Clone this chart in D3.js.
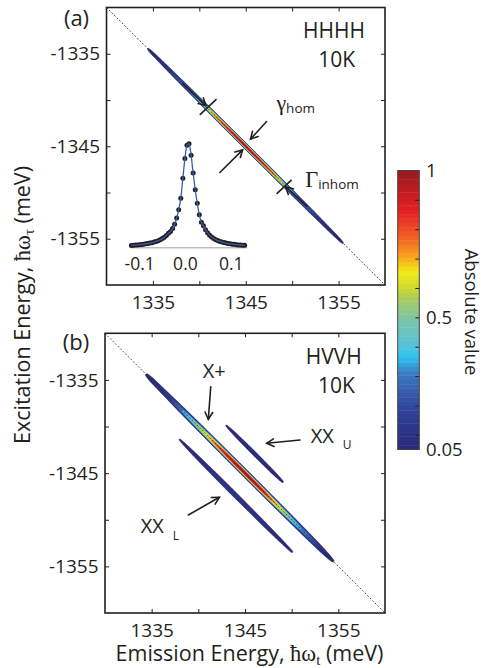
<!DOCTYPE html>
<html>
<head>
<meta charset="utf-8">
<script src="https://cdnjs.cloudflare.com/ajax/libs/d3/7.8.5/d3.min.js"></script>
<style>
  html, body { margin: 0; padding: 0; background: #fff; }
  svg { display: block; font-family: "Open Sans", "Noto Sans", sans-serif; }
</style>
</head>
<body>
<svg id="chart" width="483" height="668"></svg>
<script>
// ---------- axis ticks ----------
const emissionTicks = [1335, 1340, 1345, 1350, 1355];
const emissionLabels = [1335, 1345, 1355];
const excitationTicks = [-1335, -1340, -1345, -1350, -1355];
const excitationLabels = [-1335, -1345, -1355];

// ---------- (a) HHHH, 10K : single exciton ridge on the diagonal ----------
const hhhhEnergy = [1334, 1335, 1336, 1337, 1338, 1339, 1340, 1341, 1342, 1343, 1344, 1345,
                    1346, 1347, 1348, 1349, 1350, 1351, 1352, 1353, 1354, 1355, 1356];
const hhhhAmp    = [0.02, 0.09, 0.13, 0.20, 0.27, 0.33, 0.45, 0.66, 0.82, 0.90, 0.97, 1.00,
                    0.96, 0.90, 0.82, 0.64, 0.42, 0.30, 0.26, 0.17, 0.12, 0.08, 0.02];
const hhhhOffset = 0;      // meV from the diagonal
const hhhhWidth  = 0.27;   // meV, cross-diagonal
const hhhhShape  = 3;      // exponent of the cross-diagonal profile

// ---------- (b) HVVH, 10K : X+ on the diagonal, biexciton ridges off it ----------
const xPlusEnergy = [1334, 1335, 1336, 1337, 1338, 1339, 1340, 1341, 1342, 1343, 1344, 1345,
                     1346, 1347, 1348, 1349, 1350, 1351, 1352, 1353, 1354, 1355];
const xPlusAmp    = [0.02, 0.10, 0.14, 0.20, 0.32, 0.45, 0.60, 0.70, 0.83, 0.92, 0.98, 1.00,
                     0.98, 0.92, 0.78, 0.65, 0.50, 0.36, 0.28, 0.16, 0.08, 0.02];
const xPlusOffset = 0;
const xPlusWidth  = 0.38;
const xPlusShape  = 3;

const xxUpperEnergy = [1342.5, 1343, 1344, 1345, 1346, 1347, 1348, 1349, 1349.6];
const xxUpperAmp    = [0.00, 0.055, 0.085, 0.10, 0.11, 0.10, 0.09, 0.06, 0.00];
const xxUpperOffset = 3.1;
const xxUpperWidth  = 0.35;
const xxUpperShape  = 2;

const xxLowerEnergy = [1337.5, 1338, 1339, 1340, 1341, 1342, 1343, 1344, 1345, 1346, 1347, 1348, 1349, 1350, 1350.6];
const xxLowerAmp    = [0.00, 0.055, 0.08, 0.10, 0.12, 0.14, 0.15, 0.15, 0.14, 0.13, 0.12, 0.10, 0.08, 0.06, 0.00];
const xxLowerOffset = -3.4;
const xxLowerWidth  = 0.35;
const xxLowerShape  = 2;

// ---------- inset of (a): cross-diagonal (homogeneous) lineshape ----------
const insetX = [-0.117, -0.1125, -0.108, -0.1035, -0.099, -0.0945, -0.090, -0.0855, -0.081, -0.0765,
                -0.072, -0.0675, -0.063, -0.0585, -0.054, -0.0495, -0.045, -0.0405, -0.036, -0.0315,
                -0.027, -0.0225, -0.018, -0.0135, -0.009, -0.0045, 0.0, 0.0045, 0.009, 0.0135,
                0.018, 0.0225, 0.027, 0.0315, 0.036, 0.0405, 0.045, 0.0495, 0.054, 0.0585,
                0.063, 0.0675, 0.072, 0.0765, 0.081, 0.0855, 0.090, 0.0945, 0.099, 0.1035,
                0.108, 0.1125, 0.117, 0.1215, 0.126, 0.1305];
const insetY = [0.018, 0.020, 0.021, 0.023, 0.025, 0.027, 0.030, 0.033, 0.036, 0.040,
                0.044, 0.050, 0.056, 0.063, 0.072, 0.083, 0.097, 0.114, 0.135, 0.150,
                0.180, 0.220, 0.280, 0.360, 0.470, 0.660, 0.850, 0.975, 0.990, 0.880,
                0.710, 0.550, 0.420, 0.310, 0.240, 0.205, 0.167, 0.138, 0.116, 0.098,
                0.084, 0.073, 0.064, 0.056, 0.050, 0.045, 0.040, 0.036, 0.033, 0.030,
                0.028, 0.025, 0.023, 0.022, 0.020, 0.019];
const insetTicks = [-0.1, 0.0, 0.1];

// ---------- colour bar ----------
const colorDomain = [0.05, 1];
const colorTicks = [0.1, 0.2, 0.3, 0.4, 0.5, 0.6, 0.7, 0.8, 0.9];
const colorLabels = [1, 0.5, 0.05];
const contourLevels = d3.range(1, 20).map(k => +(k * 0.05).toFixed(2));

// printed "jet" palette
const jetStops  = [0, 0.10, 0.18, 0.27, 0.33, 0.38, 0.47, 0.54, 0.58, 0.64, 0.69, 0.76, 0.86, 1];
const jetColors = ["#2b2b7b", "#2e3a90", "#3653a4", "#3b7cc0", "#2fc3f0", "#5cc2d3", "#7dc5a6",
                   "#a8cd5c", "#cbd92e", "#f6eb1a", "#f8a91c", "#f26524", "#e51f25", "#9b1b1f"];
const jet = d3.scaleLinear().domain(jetStops).range(jetColors).interpolate(d3.interpolateRgb).clamp(true);
const levelColor = v => jet((v - colorDomain[0]) / (colorDomain[1] - colorDomain[0]));

const ink = "#231f20";
const svg = d3.select("#chart");

// ---------- helpers ----------
function arrow(g, x, y, from, to, headLen = 8) {
  const x0 = x(from[0]), y0 = y(from[1]), x1 = x(to[0]), y1 = y(to[1]);
  const a = Math.atan2(y1 - y0, x1 - x0), s = 0.5;
  g.append("line").attr("x1", x0).attr("y1", y0).attr("x2", x1).attr("y2", y1)
    .attr("stroke", ink).attr("stroke-width", 1.6).attr("stroke-linecap", "round");
  g.append("polyline")
    .attr("points", [
      [x1 - headLen * Math.cos(a - s), y1 - headLen * Math.sin(a - s)],
      [x1, y1],
      [x1 - headLen * Math.cos(a + s), y1 - headLen * Math.sin(a + s)]
    ].map(p => p.join(",")).join(" "))
    .attr("fill", "none").attr("stroke", ink).attr("stroke-width", 1.6)
    .attr("stroke-linecap", "round").attr("stroke-linejoin", "miter");
}

function drawPanel(box, bands, id) {
  const x = d3.scaleLinear().domain([1330, 1360]).range([box.x0, box.x1]);
  const y = d3.scaleLinear().domain([-1330, -1360]).range([box.y0, box.y1]);
  const g = svg.append("g");

  g.append("clipPath").attr("id", "clip-" + id)
    .append("rect").attr("x", box.x0).attr("y", box.y0)
    .attr("width", box.x1 - box.x0).attr("height", box.y1 - box.y0);

  // sample the 2D spectrum on a grid (emission along columns, excitation along rows)
  const n = 600, step = 30 / n;
  const values = new Float64Array(n * n);
  bands.forEach(b => {
    const amp = d3.scaleLinear().domain(b.energy).range(b.amp).clamp(true);
    const lim = 2.6 * b.width;
    for (let j = 0; j < n; j++) {
      const ex = -1330 - (j + 0.5) * step;
      for (let i = 0; i < n; i++) {
        const em = 1330 + (i + 0.5) * step;
        const d = em + ex - b.offset;
        if (Math.abs(d) > lim) continue;
        const t = (em - ex + b.offset) / 2;
        values[i + j * n] += amp(t) * Math.exp(-Math.pow(Math.abs(d) / b.width, b.shape));
      }
    }
  });

  const contours = d3.contours().size([n, n]).thresholds(contourLevels)(values);
  const toPlot = d3.geoTransform({
    point(px, py) { this.stream.point(x(1330 + px * step), y(-1330 - py * step)); }
  });
  const path = d3.geoPath(toPlot);

  const cg = g.append("g").attr("clip-path", `url(#clip-${id})`);
  cg.selectAll("path.level").data(contours).join("path")
    .attr("class", "level")
    .attr("d", path)
    .attr("fill", d => levelColor(d.value))
    .attr("stroke", (d, i) => i === 0 ? "#1c1c52" : "none")
    .attr("stroke-width", 0.5);

  // diagonal
  cg.append("line")
    .attr("x1", x(1330)).attr("y1", y(-1330)).attr("x2", x(1360)).attr("y2", y(-1360))
    .attr("stroke", ink).attr("stroke-width", 0.8).attr("stroke-dasharray", "1.8,1.8");

  // axes: labelled bottom/left, mirrored ticks on top/right
  const fmtX = d => emissionLabels.includes(d) ? String(d) : "";
  const fmtY = d => excitationLabels.includes(d) ? String(d) : "";
  const style = sel => {
    sel.select(".domain").remove();
    sel.attr("font-size", null).attr("font-family", null);
    sel.selectAll(".tick line").attr("stroke", ink).attr("stroke-width", 1);
    sel.selectAll(".tick text").attr("fill", ink).style("font-size", "19px");
  };
  g.append("g").attr("transform", `translate(0,${box.y1})`)
    .call(d3.axisBottom(x).tickValues(emissionTicks).tickSize(-4).tickPadding(11).tickFormat(fmtX)).call(style);
  g.append("g").attr("transform", `translate(0,${box.y0})`)
    .call(d3.axisTop(x).tickValues(emissionTicks).tickSize(-4).tickFormat("")).call(style);
  g.append("g").attr("transform", `translate(${box.x0},0)`)
    .call(d3.axisLeft(y).tickValues(excitationTicks).tickSize(-4).tickPadding(6.5).tickFormat(fmtY)).call(style);
  g.append("g").attr("transform", `translate(${box.x1},0)`)
    .call(d3.axisRight(y).tickValues(excitationTicks).tickSize(-4).tickFormat("")).call(style);

  g.append("rect").attr("x", box.x0).attr("y", box.y0)
    .attr("width", box.x1 - box.x0).attr("height", box.y1 - box.y0)
    .attr("fill", "none").attr("stroke", ink).attr("stroke-width", 1.6);

  return { g, x, y };
}

// ---------- panel (a) ----------
const A = drawPanel({ x0: 106.5, x1: 385, y0: 7.5, y1: 285 },
  [{ energy: hhhhEnergy, amp: hhhhAmp, offset: hhhhOffset, width: hhhhWidth, shape: hhhhShape }], "a");

// Gamma_inhom markers: bars across the ridge plus arrows along it
[[[1340.05, -1341.61], [1341.85, -1339.91]], [[1348.32, -1350.14], [1349.94, -1348.63]]].forEach(s => {
  A.g.append("line").attr("x1", A.x(s[0][0])).attr("y1", A.y(s[0][1]))
    .attr("x2", A.x(s[1][0])).attr("y2", A.y(s[1][1]))
    .attr("stroke", ink).attr("stroke-width", 1.6);
});
arrow(A.g, A.x, A.y, [1338.2, -1338.2], [1340.7, -1340.6]);
arrow(A.g, A.x, A.y, [1351.6, -1351.5], [1349.3, -1349.4]);
// gamma_hom arrows across the ridge
arrow(A.g, A.x, A.y, [1347.24, -1342.33], [1345.52, -1344.23]);
arrow(A.g, A.x, A.y, [1342.21, -1347.84], [1344.66, -1345.39]);

A.g.append("text").attr("x", A.x(1354.5)).attr("y", A.y(-1333.3)).attr("text-anchor", "middle")
  .attr("fill", ink).style("font-size", "21px").text("HHHH");
A.g.append("text").attr("x", A.x(1354.8)).attr("y", A.y(-1336.4)).attr("text-anchor", "middle")
  .attr("fill", ink).style("font-size", "21px").text("10K");

const gam = A.g.append("text").attr("x", A.x(1348.3)).attr("y", 110).attr("fill", ink);
gam.append("tspan").style("font-family", "'Liberation Serif', serif").style("font-size", "22px").text("γ");
gam.append("tspan").attr("dy", 3).style("font-size", "13.5px").text("hom");

const Gam = A.g.append("text").attr("x", A.x(1351.4)).attr("y", 186.7).attr("fill", ink);
Gam.append("tspan").style("font-family", "'Liberation Serif', serif").style("font-size", "22.5px").text("Γ");
Gam.append("tspan").attr("dy", 2.6).style("font-size", "13.5px").text("inhom");

svg.append("text").attr("x", 76.5).attr("y", 25.5).attr("text-anchor", "middle")
  .attr("fill", ink).style("font-size", "22px").text("(a)");

// inset lineshape
const ix = d3.scaleLinear().domain([-0.12, 0.135]).range([130, 246.7]);
const iy = d3.scaleLinear().domain([0, 1]).range([247.3, 142.7]);
const inset = A.g.append("g");
inset.append("g").attr("transform", `translate(0,${iy(0)})`)
  .call(d3.axisBottom(ix).tickValues(insetTicks).tickSize(0).tickPadding(10.3).tickFormat(d => d.toFixed(1)))
  .call(sel => {
    sel.attr("font-size", null).attr("font-family", null);
    sel.select(".domain").attr("stroke", "#9a9a9a").attr("stroke-width", 0.9);
    sel.selectAll(".tick text").attr("fill", ink).style("font-size", "17.5px");
  });
const pts = insetX.map((v, i) => [v, insetY[i]]);
inset.selectAll("circle").data(pts).join("circle")
  .attr("cx", d => ix(d[0])).attr("cy", d => iy(d[1])).attr("r", 2.5).attr("fill", ink);
inset.append("path").datum(pts)
  .attr("d", d3.line().x(d => ix(d[0])).y(d => iy(d[1])).curve(d3.curveMonotoneX))
  .attr("fill", "none").attr("stroke", "#3b5ba9").attr("stroke-width", 1.3);

// ---------- panel (b) ----------
const B = drawPanel({ x0: 105, x1: 385, y0: 333.3, y1: 613 }, [
  { energy: xPlusEnergy, amp: xPlusAmp, offset: xPlusOffset, width: xPlusWidth, shape: xPlusShape },
  { energy: xxUpperEnergy, amp: xxUpperAmp, offset: xxUpperOffset, width: xxUpperWidth, shape: xxUpperShape },
  { energy: xxLowerEnergy, amp: xxLowerAmp, offset: xxLowerOffset, width: xxLowerWidth, shape: xxLowerShape }
], "b");

arrow(B.g, B.x, B.y, [1341.33, -1335.73], [1341.07, -1339.22]);
arrow(B.g, B.x, B.y, [1350.89, -1341.44], [1347.33, -1341.80]);
arrow(B.g, B.x, B.y, [1338.93, -1349.49], [1342.25, -1347.59]);

B.g.append("text").attr("x", B.x(1354.5)).attr("y", B.y(-1333.3)).attr("text-anchor", "middle")
  .attr("fill", ink).style("font-size", "21px").text("HVVH");
B.g.append("text").attr("x", B.x(1354.8)).attr("y", B.y(-1336.4)).attr("text-anchor", "middle")
  .attr("fill", ink).style("font-size", "21px").text("10K");
B.g.append("text").attr("x", B.x(1341.7)).attr("y", B.y(-1334.8)).attr("text-anchor", "middle")
  .attr("fill", ink).style("font-size", "20px").text("X+");
B.g.append("text").attr("x", 310.7).attr("y", 443.3).attr("fill", ink).style("font-size", "20px").text("XX");
B.g.append("text").attr("x", 342.7).attr("y", 448.5).attr("fill", ink).style("font-size", "12px").text("U");
B.g.append("text").attr("x", 140.7).attr("y", 532.7).attr("fill", ink).style("font-size", "20px").text("XX");
B.g.append("text").attr("x", 172.7).attr("y", 540).attr("fill", ink).style("font-size", "12px").text("L");

svg.append("text").attr("x", 76).attr("y", 350).attr("text-anchor", "middle")
  .attr("fill", ink).style("font-size", "22px").text("(b)");

// ---------- axis titles ----------
const xt = svg.append("text").attr("x", 249.5).attr("y", 661).attr("text-anchor", "middle")
  .attr("fill", ink).style("font-size", "21.5px");
xt.append("tspan").text("Emission Energy, ");
xt.append("tspan").style("font-family", "'Liberation Serif', serif").style("font-size", "22.5px").text("ħω");
xt.append("tspan").attr("dy", 4).style("font-family", "'Liberation Serif', serif").style("font-size", "15px").text("t");
xt.append("tspan").attr("dy", -4).text(" (meV)");

const yt = svg.append("text").attr("transform", "translate(30,305) rotate(-90)").attr("text-anchor", "middle")
  .attr("fill", ink).style("font-size", "21.5px");
yt.append("tspan").text("Excitation Energy, ");
yt.append("tspan").style("font-family", "'Liberation Serif', serif").style("font-size", "22.5px").text("ħω");
yt.append("tspan").attr("dy", 4).style("font-family", "'Liberation Serif', serif").style("font-size", "15px").text("τ");
yt.append("tspan").attr("dy", -4).text(" (meV)");

// ---------- colour bar ----------
const cb = { x0: 397.7, x1: 419.3, y0: 170.5, y1: 449.5 };
const cy = d3.scaleLinear().domain(colorDomain).range([cb.y1, cb.y0]);
const nBands = 64;
const cbg = svg.append("g");
cbg.selectAll("rect.band").data(d3.range(nBands)).join("rect")
  .attr("class", "band")
  .attr("x", cb.x0)
  .attr("y", k => cy(colorDomain[0] + (k + 1) * (colorDomain[1] - colorDomain[0]) / nBands))
  .attr("width", cb.x1 - cb.x0)
  .attr("height", (cb.y1 - cb.y0) / nBands + 0.4)
  .attr("fill", k => jet(k / (nBands - 1)));
cbg.append("g").attr("transform", `translate(${cb.x1},0)`)
  .call(d3.axisLeft(cy).tickValues(colorTicks).tickSize(4).tickFormat(""))
  .call(sel => { sel.select(".domain").remove(); sel.selectAll(".tick line").attr("stroke", ink).attr("stroke-width", 1); });
cbg.append("rect").attr("x", cb.x0).attr("y", cb.y0).attr("width", cb.x1 - cb.x0).attr("height", cb.y1 - cb.y0)
  .attr("fill", "none").attr("stroke", "#444").attr("stroke-width", 1);
cbg.selectAll("text.cl").data(colorLabels).join("text")
  .attr("class", "cl").attr("x", 426).attr("y", d => cy(d)).attr("dy", "0.36em")
  .attr("fill", ink).style("font-size", "18.5px").text(d => String(d));
svg.append("text").attr("transform", "translate(464.5,312) rotate(90)").attr("text-anchor", "middle")
  .attr("fill", ink).style("font-size", "18.5px").text("Absolute value");
</script>
</body>
</html>
